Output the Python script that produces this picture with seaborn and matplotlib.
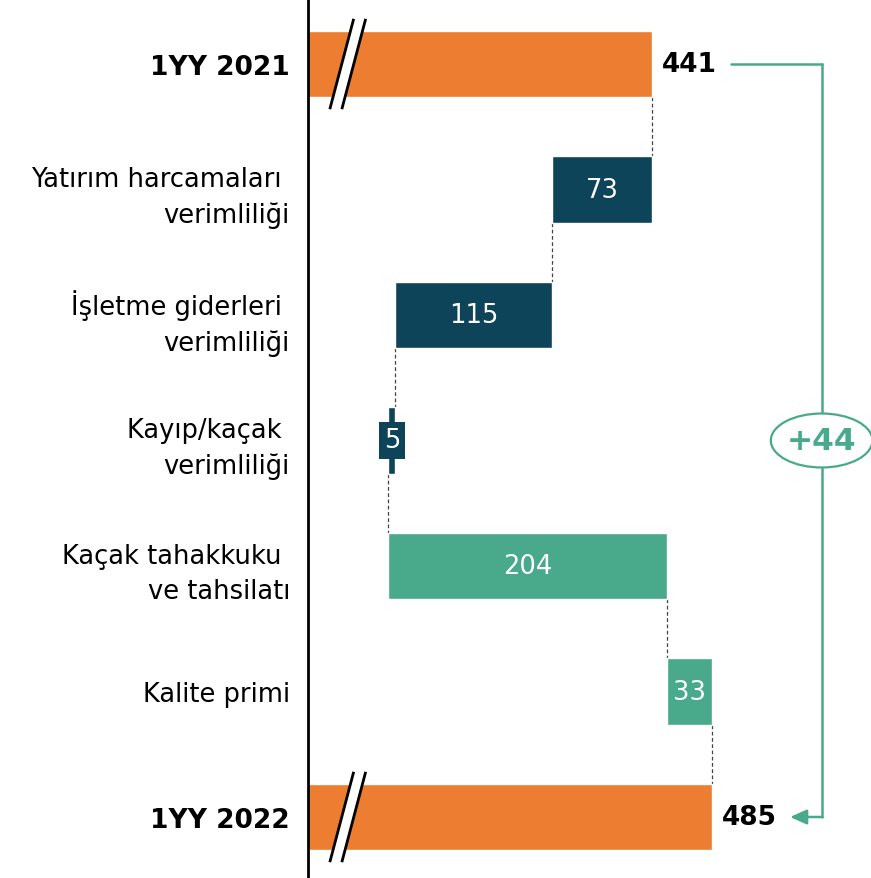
import matplotlib
matplotlib.use("Agg")
import matplotlib.pyplot as plt
import seaborn as sns
import numpy as np
from matplotlib.patches import Ellipse, Polygon

sns.set_style("white")
plt.rcParams['font.family'] = ['DejaVu Sans']
plt.rcParams['text.color'] = 'black'
plt.rcParams['ytick.color'] = 'black'

categories = ["1YY 2021", "Yatırım harcamaları \nverimliliği", "İşletme giderleri \nverimliliği",
              "Kayıp/kaçak \nverimliliği", "Kaçak tahakkuku \nve tahsilatı", "Kalite primi", "1YY 2022"]
values = [441, -73, -115, -5, 204, 33, 485]
labels = ["441", "73", "115", "5", "204", "33", "485"]
kinds = ["total", "down", "down", "down", "up", "up", "total"]
delta_label = "+44"

ORANGE = "#ED7D31"
DARK = "#0D4459"
GREEN = "#48A98B"
colors = {"total": ORANGE, "down": DARK, "up": GREEN}

x0, x1 = 189.0, 601.8
bh = 0.526

# compute waterfall
lefts, widths, ends = [], [], []
running = 0
for v, k in zip(values, kinds):
    if k == "total":
        lefts.append(x0 - 50)
        widths.append(v - (x0 - 50))
        running = v
        ends.append(v)
    else:
        new = running + v
        lefts.append(min(running, new))
        widths.append(abs(v))
        running = new
        ends.append(new)

fig = plt.figure(figsize=(8.71, 8.79), dpi=100)
ax = fig.add_axes([308/871, 0, 1 - 308/871, 1])
n = len(values)
ypos = np.arange(n)
ax.barh(ypos, widths, left=lefts, height=bh,
        color=[colors[k] for k in kinds], zorder=2)
ax.set_xlim(x0, x1)
ax.set_ylim(6 + 61/125.5, -65/125.5)

# connectors
for i in range(n - 1):
    xc = ends[i]
    ax.plot([xc, xc], [i + bh/2, i + 1 - bh/2], ls=(0, (3, 2)), color="#444444", lw=0.9, zorder=1)

# break marks on totals
for i, k in enumerate(kinds):
    if k == "total":
        poly = Polygon([(205.0, i + 0.36), (222.5, i - 0.36), (231.3, i - 0.36), (213.8, i + 0.36)],
                       closed=True, fc="white", ec="none", zorder=3)
        ax.add_patch(poly)
        ax.plot([205.0, 222.5], [i + 0.36, i - 0.36], color="black", lw=2, zorder=4, solid_capstyle="butt")
        ax.plot([213.8, 231.3], [i + 0.36, i - 0.36], color="black", lw=2, zorder=4, solid_capstyle="butt")

# labels
for i, (k, lab) in enumerate(zip(kinds, labels)):
    if k == "total":
        ax.annotate(lab, (values[i], i), xytext=(7, 0), textcoords="offset points",
                    ha="left", va="center", fontsize=19, fontweight="bold", color="black", zorder=5)
    else:
        cx = lefts[i] + widths[i] / 2
        if widths[i] < 10:
            ax.text(cx, i, lab, ha="center", va="center", fontsize=18.5, color="white", zorder=5,
                    bbox=dict(boxstyle="square,pad=0.2", fc=DARK, ec="none"))
        else:
            ax.text(cx, i, lab, ha="center", va="center", fontsize=18.5, color="white", zorder=5)

# bracket
xv = 565.6
ax.plot([499, xv], [0, 0], color=GREEN, lw=1.8, zorder=2, clip_on=False)
ax.plot([xv, xv], [0, 6], color=GREEN, lw=1.8, zorder=2, clip_on=False)
ax.annotate("", xy=(542.5, 6), xytext=(xv + 0.6, 6),
            arrowprops=dict(arrowstyle="-|>,head_length=1.0,head_width=0.45", color=GREEN, lw=1.8,
                            shrinkA=0, shrinkB=0), zorder=3, annotation_clip=False)
ell = Ellipse((xv, 3), width=74.5, height=0.43, fc="white", ec=GREEN, lw=1.6, zorder=4, clip_on=False)
ax.add_patch(ell)
ax.text(xv, 3, delta_label, ha="center", va="center", fontsize=22.5, fontweight="bold", color=GREEN, zorder=5)

# axes styling
ax.set_yticks(ypos)
ax.set_yticklabels(categories, fontsize=18.5, linespacing=1.45, color="black")
for t, k in zip(ax.get_yticklabels(), kinds):
    if k == "total":
        t.set_fontweight("bold")
        t.set_fontsize(19)
ax.tick_params(axis="y", length=0, pad=13)
ax.set_xticks([])
for s in ["top", "right", "bottom"]:
    ax.spines[s].set_visible(False)
ax.spines["left"].set_color("black")
ax.spines["left"].set_linewidth(2)

fig.savefig("out.png", dpi=100)
